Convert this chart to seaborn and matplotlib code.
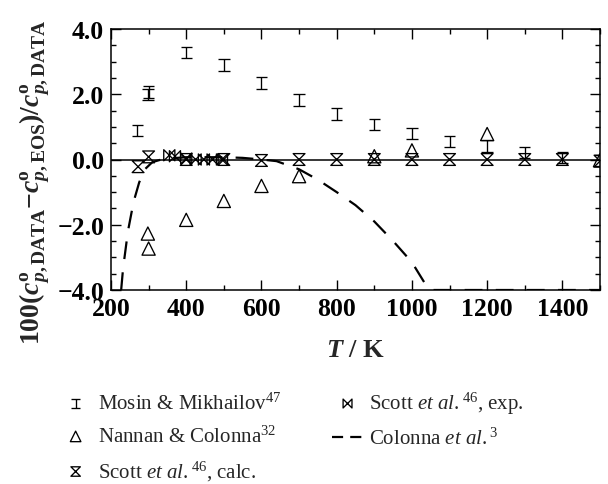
import numpy as np
import matplotlib
matplotlib.use("Agg")
import matplotlib.pyplot as plt
from matplotlib.path import Path
from matplotlib.lines import Line2D
from matplotlib.ticker import MultipleLocator, FuncFormatter
import seaborn as sns

# Deviations of ideal-gas isobaric heat capacity from the EOS, in percent
mosin_T = [270, 298, 300, 400, 500, 600, 700, 800, 900, 1000, 1100, 1200, 1300, 1400, 1500]
mosin_dev = [0.89, 2.00, 2.07, 3.28, 2.90, 2.35, 1.83, 1.40, 1.07, 0.80, 0.56, 0.41, 0.22, 0.06, -0.03]

nannan_T = [298, 300, 400, 500, 600, 700, 900, 1000, 1200, 1500]
nannan_dev = [-2.27, -2.73, -1.85, -1.27, -0.81, -0.51, 0.10, 0.28, 0.78, -0.02]

scott_calc_T = [272, 300, 400, 500, 600, 700, 800, 900, 1000, 1100, 1200, 1300, 1400, 1500]
scott_calc_dev = [-0.22, 0.08, 0.0, 0.0, -0.03, 0.0, 0.0, 0.0, 0.0, 0.0, 0.0, 0.0, 0.0, -0.05]

scott_exp_T = [355, 370, 400, 425, 447, 470, 495]
scott_exp_dev = [0.13, 0.10, 0.03, 0.0, 0.0, 0.0, 0.0]

colonna_T = [227, 232, 245, 260, 275, 290, 310, 340, 400, 500, 550, 600, 640, 700, 750,
             800, 850, 900, 950, 1000, 1040, 1050, 1100, 1200, 1300, 1400, 1500]
colonna_dev = [-4.0, -3.35, -2.2, -1.3, -0.7, -0.3, -0.08, 0.02, 0.07, 0.07, 0.05, 0.0, -0.05,
               -0.3, -0.62, -1.0, -1.4, -1.9, -2.5, -3.15, -3.9, -4.0, -4.0, -4.0, -4.0, -4.0, -4.0]

labels = [
    "Mosin & Mikhailov$^{47}$",
    "Nannan & Colonna$^{32}$",
    r"Scott $\mathit{et}$ $\mathit{al.}^{46}$, calc.",
    r"Scott $\mathit{et}$ $\mathit{al.}^{46}$, exp.",
    r"Colonna $\mathit{et}$ $\mathit{al.}^{3}$",
]

sns.set_style("ticks")
plt.rcParams.update({
    "font.family": ["Liberation Serif", "DejaVu Serif"],
    "mathtext.fontset": "custom",
    "mathtext.rm": "Liberation Serif",
    "mathtext.it": "Liberation Serif:italic",
    "mathtext.bf": "Liberation Serif:bold",
    "axes.unicode_minus": True,
})
try:
    plt.rcParams["mathtext.bfit"] = "Liberation Serif:italic:bold"
except KeyError:
    pass

# Line-art marker shapes
ibeam = Path([(-1, 1), (1, 1), (0, 1), (0, -1), (-1, -1), (1, -1)],
             [Path.MOVETO, Path.LINETO, Path.MOVETO, Path.LINETO, Path.MOVETO, Path.LINETO])
hourglass = Path([(-1, 1), (1, 1), (-1, -1), (1, -1), (-1, 1)],
                 [Path.MOVETO, Path.LINETO, Path.LINETO, Path.LINETO, Path.CLOSEPOLY])
bowtie = Path([(-1, 1), (-1, -1), (1, 1), (1, -1), (-1, 1)],
              [Path.MOVETO, Path.LINETO, Path.LINETO, Path.LINETO, Path.CLOSEPOLY])

fig = plt.figure(figsize=(6.08, 4.85), dpi=100)
W, H = 608, 485
ax = fig.add_axes([111 / W, 1 - 291 / H, (600 - 111) / W, (291 - 30) / H])

ax.axhline(0, color="k", lw=1.1, zorder=1)

mk = dict(facecolor="none", edgecolor="k", linewidth=0.95, zorder=3)
sns.scatterplot(x=mosin_T, y=mosin_dev, marker=ibeam, s=68, ax=ax, label=labels[0], **mk)
sns.scatterplot(x=nannan_T, y=nannan_dev, marker="^", s=90, ax=ax, label=labels[1], **mk)
sns.scatterplot(x=scott_calc_T, y=scott_calc_dev, marker=hourglass, s=72, ax=ax, label=labels[2], **mk)
sns.scatterplot(x=scott_exp_T, y=scott_exp_dev, marker=bowtie, s=64, ax=ax, label=labels[3], **mk)
sns.lineplot(x=colonna_T, y=colonna_dev, ax=ax, color="k", lw=1.6, sort=False, estimator=None,
             linestyle=(0, (8, 6)), label=labels[4], zorder=2)

ax.set_xlim(200, 1500)
ax.set_ylim(-4.0, 4.0)
ax.xaxis.set_major_locator(MultipleLocator(200))
ax.xaxis.set_minor_locator(MultipleLocator(100))
ax.yaxis.set_major_locator(MultipleLocator(2.0))
ax.yaxis.set_minor_locator(MultipleLocator(0.5))
ax.yaxis.set_major_formatter(FuncFormatter(lambda v, p: f"{v:.1f}".replace("-", "\u2212")))
ax.tick_params(which="both", direction="in", top=True, right=True, width=1.0, colors="k")
ax.tick_params(which="major", length=7, pad=5)
ax.tick_params(which="minor", length=3.6)
for lab in ax.get_xticklabels() + ax.get_yticklabels():
    lab.set_fontsize(18.5)
    lab.set_fontweight("bold")
for sp in ax.spines.values():
    sp.set_linewidth(1.1)
    sp.set_color("k")

ax.set_xlabel(r"$\mathbfit{T}\mathbf{\ /\ K}$", fontsize=19, labelpad=14)
ax.set_ylabel(
    r"$\mathbf{100(}\mathbfit{c}^{\mathbf{o}}_{\mathbfit{p}\mathbf{,DATA}}\mathbf{-}"
    r"\mathbfit{c}^{\mathbf{o}}_{\mathbfit{p}\mathbf{,EOS}}\mathbf{)/}"
    r"\mathbfit{c}^{\mathbf{o}}_{\mathbfit{p}\mathbf{,DATA}}$",
    fontsize=20)
ax.yaxis.set_label_coords((52 - 111) / 489, (291 - 182) / 261)

handles, labs = ax.get_legend_handles_labels()
ax.get_legend().remove()
order = [labs.index(l) for l in labels]
handles = [handles[i] for i in order]
# shorter dash pattern so the key shows two dashes
handles[4] = Line2D([], [], color="k", lw=1.6, linestyle=(0, (5, 3.2)))
fig.legend(handles, [labs[i] for i in order], ncol=2,
           loc="upper left", bbox_to_anchor=(60 / W, 1 - 391 / H), frameon=False,
           fontsize=15, markerscale=0.8, handlelength=1.5, handletextpad=0.3,
           columnspacing=2.45, labelspacing=0.56, borderpad=0, borderaxespad=0)

fig.savefig("out.png", dpi=100)
